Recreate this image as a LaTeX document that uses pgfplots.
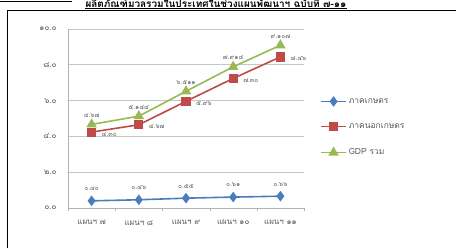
\documentclass[border=0pt]{standalone}
\usepackage{pgfplots}
\pgfplotsset{compat=1.18}
\usepackage{fontspec}
\newfontfamily\thai[Script=Thai]{Loma}
\definecolor{cblue}{HTML}{4A7EBB}
\definecolor{cred}{HTML}{BE4B48}
\definecolor{cgreen}{HTML}{98B954}
\definecolor{tgray}{HTML}{595959}
\begin{document}
\begin{tikzpicture}[x=1bp,y=1bp]
\useasboundingbox (0,0) rectangle (456,248);
\draw[line width=0.8bp] (0,246.5) -- (72,246.5);
\draw[line width=0.8bp] (7,0) -- (7,238) -- (456,238);
\node[name=t, anchor=base, font=\thai\bfseries\fontsize{10}{11}\selectfont, inner sep=0pt] at (216,241) {ผลิตภัณฑ์มวลรวมในประเทศในช่วงแผนพัฒนาฯ ฉบับที่ ๗-๑๑};
\draw[line width=0.6bp] ([yshift=-1.1bp]t.base west) -- ([yshift=-1.1bp]t.base east);
\begin{axis}[
  at={(68bp,40bp)}, anchor=south west,
  scale only axis, width=236bp, height=179bp,
  xmin=-0.5, xmax=4.5, ymin=0, ymax=10,
  axis lines=left, axis line style={draw=gray!60, -},
  ytick={0,2,4,6,8,10},
  yticklabels={๐.๐,๒.๐,๔.๐,๖.๐,๘.๐,๑๐.๐},
  xtick={0,1,2,3,4},
  xticklabels={แผนฯ ๗,แผนฯ ๘,แผนฯ ๙,แผนฯ ๑๐,แผนฯ ๑๑},
  minor xtick={-0.5,0.5,1.5,2.5,3.5,4.5},
  major tick length=0pt, minor tick length=3bp,
  tick align=outside, minor tick style={gray!60},
  ymajorgrids, grid style={gray!45, line width=0.6bp},
  tick label style={font=\thai\fontsize{8}{9}\selectfont, text=tgray},
  yticklabel style={xshift=-8bp},
  xticklabel style={yshift=-9bp},
  clip=false,
  every node near coord/.append style={font=\thai\fontsize{6.5}{7}\selectfont, text=tgray},
  legend style={at={(1.068,0.625)}, anchor=north west, draw=none, fill=none,
    font=\thai\fontsize{8.5}{9}\selectfont, text=tgray, row sep=15bp,
    inner sep=0pt},
  legend cell align=left,
  legend image code/.code={
    \draw[#1, mark repeat=2, mark phase=2] plot coordinates {(0bp,0bp) (12.5bp,0bp) (25bp,0bp)};
  },
]
\addplot[cblue, line width=1.6bp, mark=diamond*, mark size=4bp, mark options={solid, fill=cblue},
  point meta=explicit symbolic, nodes near coords,
  nodes near coords style={anchor=south, yshift=6bp}]
  coordinates {(0,0.40)[๐.๔๐] (1,0.46)[๐.๔๖] (2,0.55)[๐.๕๕] (3,0.61)[๐.๖๑] (4,0.66)[๐.๖๖]};
\addlegendentry{ภาคเกษตร}
\addplot[cred, line width=1.6bp, mark=square*, mark size=3.8bp, mark options={solid, fill=cred},
  point meta=explicit symbolic, nodes near coords,
  nodes near coords style={anchor=west, xshift=6bp, yshift=-2bp}]
  coordinates {(0,4.24)[๔.๓๐] (1,4.65)[๔.๖๗] (2,5.96)[๕.๙๖] (3,7.24)[๗.๓๐] (4,8.44)[๘.๔๖]};
\addlegendentry{ภาคนอกเกษตร}
\addplot[cgreen, line width=1.6bp, mark=triangle*, mark size=4.5bp, mark options={solid, fill=cgreen},
  point meta=explicit symbolic, nodes near coords,
  nodes near coords style={anchor=south, yshift=3bp}]
  coordinates {(0,4.67)[๔.๖๗] (1,5.13)[๕.๑๔๔] (2,6.52)[๖.๕๑๑] (3,7.89)[๗.๙๑๔] (4,9.09)[๙.๑๐๗]};
\addlegendentry{GDP รวม}
\end{axis}
\end{tikzpicture}
\end{document}
